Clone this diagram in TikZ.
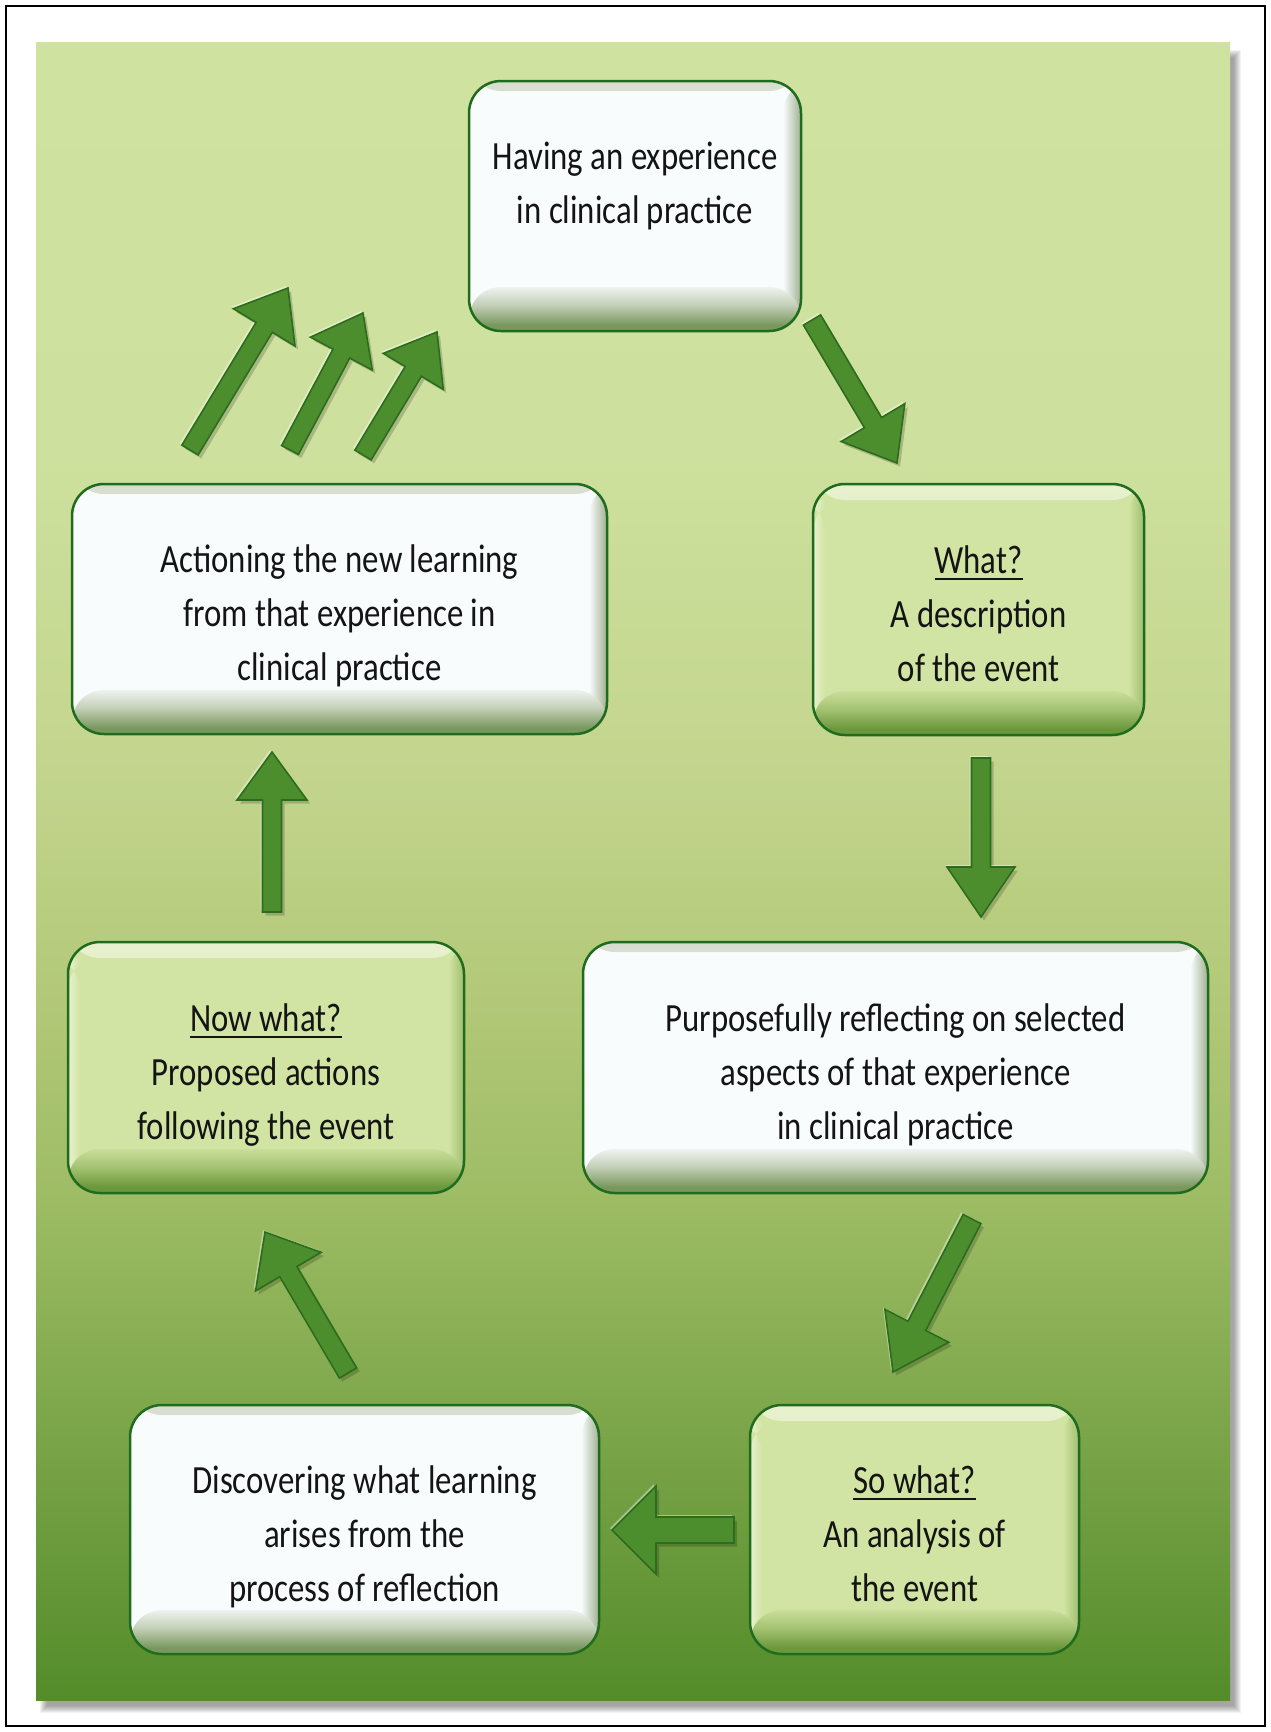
\documentclass[tikz,border=0pt]{standalone}
\usepackage{fontspec}
\setmainfont{Carlito}[FakeStretch=0.82]
\usetikzlibrary{calc}

\definecolor{bg0}{RGB}{207,226,160}
\definecolor{bg1}{RGB}{205,224,157}
\definecolor{bg2}{RGB}{195,213,141}
\definecolor{bg3}{RGB}{178,200,120}
\definecolor{bg4}{RGB}{157,188,100}
\definecolor{bg5}{RGB}{120,163,70}
\definecolor{bg6}{RGB}{84,140,42}
\definecolor{boxline}{RGB}{32,108,30}
\definecolor{wfill}{RGB}{249,252,253}
\definecolor{wmid}{RGB}{196,208,184}
\definecolor{wshade}{RGB}{122,152,94}
\definecolor{wside}{RGB}{160,176,145}
\definecolor{wtop}{RGB}{215,222,208}
\definecolor{gfill}{RGB}{210,228,163}
\definecolor{gmid}{RGB}{165,196,115}
\definecolor{gshade}{RGB}{108,152,60}
\definecolor{gside}{RGB}{158,190,110}
\definecolor{ghigh}{RGB}{232,241,206}
\definecolor{txtc}{RGB}{20,20,20}
\definecolor{arrowmid}{RGB}{76,142,46}
\definecolor{arrowdark}{RGB}{44,108,28}

\pgfdeclareverticalshading{panelshade}{100bp}{color(0bp)=(bg6); color(25bp)=(bg6); color(32.5bp)=(bg5); color(40bp)=(bg4); color(46bp)=(bg3); color(53bp)=(bg2); color(62.5bp)=(bg1); color(75bp)=(bg0); color(100bp)=(bg0)}
\pgfdeclareverticalshading{wbevel}{100bp}{color(0bp)=(wshade); color(32bp)=(wshade); color(55bp)=(wmid); color(80bp)=(wfill); color(100bp)=(wfill)}
\pgfdeclareverticalshading{gbevel}{100bp}{color(0bp)=(gshade); color(32bp)=(gshade); color(55bp)=(gmid); color(80bp)=(gfill); color(100bp)=(gfill)}

\newcommand\myul[1]{\setbox0\hbox{#1}\rlap{\rule[-7pt]{\wd0}{2.6pt}}\box0}

\newcommand\arrowpts[4]{($(#1)!#3pt!90:(#2)$) -- ($(hb)!#3pt!90:(#2)$) -- ($(hb)!#4pt!90:(#2)$) -- (#2) -- ($(hb)!#4pt!-90:(#2)$) -- ($(hb)!#3pt!-90:(#2)$) -- ($(#1)!#3pt!-90:(#2)$) -- cycle}
% #1 start, #2 tip, #3 half shaft, #4 half head, #5 head length
\newcommand\blockarrow[5]{%
  \path ($(#2)!#5pt!(#1)$) coordinate (hb);
  \begin{scope}[transform canvas={shift={(3pt,-3.5pt)}}]
    \fill[black, opacity=.18] \arrowpts{#1}{#2}{#3}{#4};
  \end{scope}
  \begin{scope}[transform canvas={shift={(-2pt,2pt)}}]
    \fill[white, opacity=.4] \arrowpts{#1}{#2}{#3}{#4};
  \end{scope}
  \fill[arrowmid, draw=arrowdark, line width=1.6pt, line join=miter] \arrowpts{#1}{#2}{#3}{#4};
}

\begin{document}
\begin{tikzpicture}[x=1pt,y=-1pt,
  box/.style={draw=boxline, line width=2.5pt, rounded corners=32pt, inner sep=0pt, shape=rectangle},
  wbox/.style={box, fill=wfill, path picture={
    \shade[top color=wtop, bottom color=wfill] (path picture bounding box.north west) rectangle ([yshift=-10pt]path picture bounding box.north east);
    \shade[left color=wfill, right color=wside] ([xshift=-18pt]path picture bounding box.north east) rectangle (path picture bounding box.south east);
    \shade[shading=wbevel] ([yshift=44pt]path picture bounding box.south west) rectangle (path picture bounding box.south east);
  }},
  gbox/.style={box, fill=gfill, path picture={
    \shade[top color=ghigh, bottom color=gfill] (path picture bounding box.north west) rectangle ([yshift=-16pt]path picture bounding box.north east);
    \shade[left color=ghigh, right color=gfill] ([yshift=-16pt]path picture bounding box.north west) rectangle ([xshift=12pt]path picture bounding box.south west);
    \shade[left color=gfill, right color=gside] ([xshift=-16pt]path picture bounding box.north east) rectangle (path picture bounding box.south east);
    \shade[shading=gbevel] ([yshift=44pt]path picture bounding box.south west) rectangle (path picture bounding box.south east);
  }},
  txt/.style={align=center, inner sep=0pt, font=\fontsize{40}{54}\selectfont, text=txtc}
]
\useasboundingbox (0,0) rectangle (1270,1732);
\fill[white] (0,0) rectangle (1270,1732);

% outer frame
\draw[line width=2pt, black] (6,6) rectangle (1265,1726);

% panel shadow
\foreach \k in {0,...,7}
  \fill[black, opacity=0.05] (40+\k,50+\k) rectangle (1241-\k,1713-\k);
% panel
\shade[shading=panelshade] (36,42) rectangle (1230,1700);

% boxes
\node[wbox, minimum width=332pt, minimum height=250pt] (b1) at (635,206) {};
\node[gbox, minimum width=331pt, minimum height=251pt] (b2) at (978.5,609.5) {};
\node[wbox, minimum width=625pt, minimum height=251pt] (b3) at (895.5,1067.5) {};
\node[gbox, minimum width=329pt, minimum height=249pt] (b4) at (914.5,1529.5) {};
\node[wbox, minimum width=469pt, minimum height=249pt] (b5) at (364.5,1529.5) {};
\node[gbox, minimum width=396pt, minimum height=251pt] (b6) at (266,1067.5) {};
\node[wbox, minimum width=535pt, minimum height=250pt] (b7) at (339.5,609) {};

% texts
\node[txt] (t1) at ([yshift=20pt]b1.center) {\strut Having an experience\\\strut in clinical practice};
\node[txt] (t2) at ([yshift=-7pt]b2.center) {\strut\myul{What?}\\\strut A description\\\strut of the event};
\node[txt] (t3) at ([yshift=-7pt]b3.center) {\strut Purposefully reflecting on selected\\\strut aspects of that experience\\\strut in clinical practice};
\node[txt] (t4) at ([yshift=-7pt]b4.center) {\strut\myul{So what?}\\\strut An analysis of\\\strut the event};
\node[txt] (t5) at ([yshift=-7pt]b5.center) {\strut Discovering what learning\\\strut arises from the\\\strut process of reflection};
\node[txt] (t6) at ([yshift=-7pt]b6.center) {\strut\myul{Now what?}\\\strut Proposed actions\\\strut following the event};
\node[txt] (t7) at ([yshift=-7pt]b7.center) {\strut Actioning the new learning\\\strut from that experience in\\\strut clinical practice};

% arrow end points
\coordinate (a1s) at (812,320);  \coordinate (a1e) at (897,463);
\coordinate (a2s) at (981,758);  \coordinate (a2e) at (981,917);
\coordinate (a3s) at (972,1219); \coordinate (a3e) at (893,1372);
\coordinate (a4s) at (734,1530); \coordinate (a4e) at (612,1530);
\coordinate (a5s) at (348,1373); \coordinate (a5e) at (265,1232);
\coordinate (a6s) at (272,912);  \coordinate (a6e) at (272,752);
\coordinate (u1s) at (190,450);  \coordinate (u1e) at (288,288);
\coordinate (u2s) at (290,450);  \coordinate (u2e) at (363,313);
\coordinate (u3s) at (363,455);  \coordinate (u3e) at (437,332);

\blockarrow{a1s}{a1e}{10}{37}{47}
\blockarrow{a2s}{a2e}{9.5}{34}{50}
\blockarrow{a3s}{a3e}{10}{36}{52}
\blockarrow{a4s}{a4e}{13}{44}{44}
\blockarrow{a5s}{a5e}{10}{38}{46}
\blockarrow{a6s}{a6e}{9.5}{35}{48}
\blockarrow{u1s}{u1e}{9.5}{36}{46}
\blockarrow{u2s}{u2e}{9.5}{35}{46}
\blockarrow{u3s}{u3e}{9.5}{35}{46}
\end{tikzpicture}
\end{document}
